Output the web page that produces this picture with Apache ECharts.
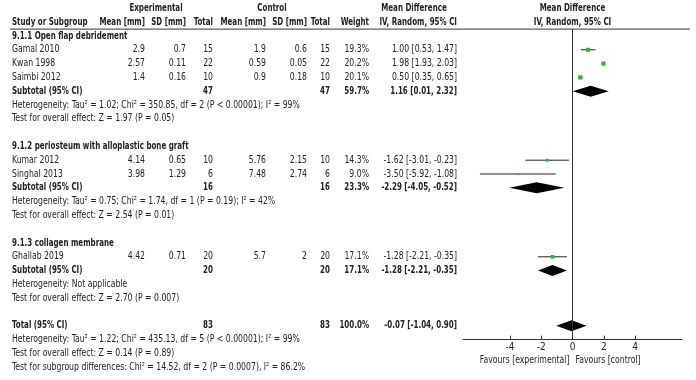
<!DOCTYPE html>
<html>
<head>
<meta charset="utf-8">
<script src="https://cdn.jsdelivr.net/npm/echarts@6/dist/echarts.min.js"></script>
<style>
  html, body { margin: 0; padding: 0; background: #fff; }
  #chart { width: 696px; height: 380px; }
</style>
</head>
<body>
<div id="chart"></div>
<script>
// studies
const studyNames = ['Gamal 2010', 'Kwan 1998', 'Saimbi 2012', 'Kumar 2012', 'Singhal 2013', 'Ghallab 2019'];
const studyGroup = [0, 0, 0, 1, 1, 2];
const expMean = [2.9, 2.57, 1.4, 4.14, 3.98, 4.42];
const expSD = [0.7, 0.11, 0.16, 0.65, 1.29, 0.71];
const expN = [15, 22, 10, 10, 6, 20];
const ctlMean = [1.9, 0.59, 0.9, 5.76, 7.48, 5.7];
const ctlSD = [0.6, 0.05, 0.18, 2.15, 2.74, 2];
const ctlN = [15, 22, 10, 10, 6, 20];
const weight = [19.3, 20.2, 20.1, 14.3, 9.0, 17.1];
const md = [1.00, 1.98, 0.50, -1.62, -3.50, -1.28];
const ciLow = [0.53, 1.93, 0.35, -3.01, -5.92, -2.21];
const ciHigh = [1.47, 2.03, 0.65, -0.23, -1.08, -0.35];

// subgroups
const groupNames = ['9.1.1 Open flap debridement', '9.1.2 periosteum with alloplastic bone graft', '9.1.3 collagen membrane'];
const groupExpN = [47, 16, 20];
const groupCtlN = [47, 16, 20];
const groupWeight = [59.7, 23.3, 17.1];
const groupMd = [1.16, -2.29, -1.28];
const groupLow = [0.01, -4.05, -2.21];
const groupHigh = [2.32, -0.52, -0.35];
const groupHet = [
    'Heterogeneity: Tau² = 1.02; Chi² = 350.85, df = 2 (P < 0.00001); I² = 99%',
    'Heterogeneity: Tau² = 0.75; Chi² = 1.74, df = 1 (P = 0.19); I² = 42%',
    'Heterogeneity: Not applicable'
];
const groupZ = [
    'Test for overall effect: Z = 1.97 (P = 0.05)',
    'Test for overall effect: Z = 2.54 (P = 0.01)',
    'Test for overall effect: Z = 2.70 (P = 0.007)'
];

// overall
const totalExpN = 83;
const totalCtlN = 83;
const totalWeight = 100.0;
const totalMd = -0.07;
const totalLow = -1.04;
const totalHigh = 0.90;
const totalNotes = [
    'Heterogeneity: Tau² = 1.22; Chi² = 435.13, df = 5 (P < 0.00001); I² = 99%',
    'Test for overall effect: Z = 0.14 (P = 0.89)',
    'Test for subgroup differences: Chi² = 14.52, df = 2 (P = 0.0007), I² = 86.2%'
];

const xTicks = [-4, -2, 0, 2, 4];

// layout
const FONT = "'DejaVu Sans Condensed', 'Liberation Sans Narrow', sans-serif";
const FONT_SIZE = 10;
const TEXT_COLOR = '#222';
const GREEN = '#2eb82e';
const ROW_H = 13.8;
const TOP = 8.4;
const COL = { name: 12, expMean: 145, expSD: 186, expN: 213, ctlMean: 266, ctlSD: 307, ctlN: 330, weight: 369, ci: 457 };
// horizontal squeeze so the condensed font matches the original's width
const SQUEEZE = { regular: 0.86, bold: 0.79 };

const fmt = v => v.toFixed(2);
const ciText = (m, l, h) => fmt(m) + ' [' + fmt(l) + ', ' + fmt(h) + ']';

let textItems = [];
function addText(x, row, text, align, bold) {
    textItems.push({ x: x, row: row, text: text, align: align, bold: !!bold });
}

// header
addText(156, 0, 'Experimental', 'center', true);
addText(272, 0, 'Control', 'center', true);
addText(414, 0, 'Mean Difference', 'center', true);
addText(COL.name, 1, 'Study or Subgroup', 'left', true);
addText(COL.expMean, 1, 'Mean [mm]', 'right', true);
addText(COL.expSD, 1, 'SD [mm]', 'right', true);
addText(COL.expN, 1, 'Total', 'right', true);
addText(COL.ctlMean, 1, 'Mean [mm]', 'right', true);
addText(COL.ctlSD, 1, 'SD [mm]', 'right', true);
addText(COL.ctlN, 1, 'Total', 'right', true);
addText(COL.weight, 1, 'Weight', 'right', true);
addText(COL.ci, 1, 'IV, Random, 95% CI', 'right', true);

let studyRows = [];
let groupRows = [];
let row = 2;
groupNames.forEach((g, gi) => {
    addText(COL.name, row, g, 'left', true);
    row++;
    studyNames.forEach((s, i) => {
        if (studyGroup[i] !== gi) return;
        addText(COL.name, row, s, 'left');
        addText(COL.expMean, row, String(expMean[i]), 'right');
        addText(COL.expSD, row, String(expSD[i]), 'right');
        addText(COL.expN, row, String(expN[i]), 'right');
        addText(COL.ctlMean, row, String(ctlMean[i]), 'right');
        addText(COL.ctlSD, row, String(ctlSD[i]), 'right');
        addText(COL.ctlN, row, String(ctlN[i]), 'right');
        addText(COL.weight, row, weight[i].toFixed(1) + '%', 'right');
        addText(COL.ci, row, ciText(md[i], ciLow[i], ciHigh[i]), 'right');
        studyRows[i] = row;
        row++;
    });
    addText(COL.name, row, 'Subtotal (95% CI)', 'left', true);
    addText(COL.expN, row, String(groupExpN[gi]), 'right', true);
    addText(COL.ctlN, row, String(groupCtlN[gi]), 'right', true);
    addText(COL.weight, row, groupWeight[gi].toFixed(1) + '%', 'right', true);
    addText(COL.ci, row, ciText(groupMd[gi], groupLow[gi], groupHigh[gi]), 'right', true);
    groupRows[gi] = row;
    row++;
    addText(COL.name, row, groupHet[gi], 'left');
    row++;
    addText(COL.name, row, groupZ[gi], 'left');
    row += 2;
});
const totalRow = row;
addText(COL.name, row, 'Total (95% CI)', 'left', true);
addText(COL.expN, row, String(totalExpN), 'right', true);
addText(COL.ctlN, row, String(totalCtlN), 'right', true);
addText(COL.weight, row, totalWeight.toFixed(1) + '%', 'right', true);
addText(COL.ci, row, ciText(totalMd, totalLow, totalHigh), 'right', true);
totalNotes.forEach(n => { row++; addText(COL.name, row, n, 'left'); });
const lastRow = row;
const axisRow = totalRow + 1;

// texts placed on the plot's own scale (centred on zero)
const plotTexts = [
    { x: 0, row: 0, text: 'Mean Difference', align: 'center', bold: true },
    { x: 0, row: 1, text: 'IV, Random, 95% CI', align: 'center', bold: true },
    { x: 0, row: axisRow + 1.5, text: 'Favours [experimental]', align: 'right', dx: -3 },
    { x: 0, row: axisRow + 1.5, text: 'Favours [control]', align: 'left', dx: 3 }
];

function textEl(p, t) {
    return {
        type: 'text',
        x: p[0] + (t.dx || 0),
        y: p[1],
        scaleX: t.bold ? SQUEEZE.bold : SQUEEZE.regular,
        style: {
            text: t.text,
            fill: TEXT_COLOR,
            font: (t.bold ? 'bold ' : '') + FONT_SIZE + 'px ' + FONT,
            align: t.align,
            verticalAlign: 'middle'
        }
    };
}

const studyData = md.map((m, i) => [m, studyRows[i], ciLow[i], ciHigh[i], weight[i]]);
const diamondData = groupMd.map((m, gi) => [m, groupRows[gi], groupLow[gi], groupHigh[gi]]);
diamondData.push([totalMd, totalRow, totalLow, totalHigh]);

const chart = echarts.init(document.getElementById('chart'));
chart.setOption({
    animation: false,
    grid: [
        { left: 0, right: 0, top: TOP, height: lastRow * ROW_H },
        { left: 463, width: 219, top: TOP, height: axisRow * ROW_H }
    ],
    xAxis: [
        { gridIndex: 0, type: 'value', min: 0, max: 696, show: false },
        {
            gridIndex: 1, type: 'value', min: -7, max: 7, position: 'bottom',
            splitLine: { show: false },
            axisLine: { onZero: false, lineStyle: { color: '#333', width: 1 } },
            axisTick: { inside: true, length: 4, customValues: xTicks, lineStyle: { color: '#333' } },
            axisLabel: { customValues: xTicks, margin: 3, fontSize: FONT_SIZE, color: TEXT_COLOR, fontFamily: FONT }
        }
    ],
    yAxis: [
        { gridIndex: 0, type: 'value', min: 0, max: lastRow, inverse: true, show: false },
        { gridIndex: 1, type: 'value', min: 0, max: axisRow, inverse: true, show: false }
    ],
    series: [
        {
            // header rule
            type: 'line', xAxisIndex: 0, yAxisIndex: 0, silent: true, symbol: 'none',
            lineStyle: { color: '#333', width: 1 },
            data: [[10, 1.5], [690, 1.5]]
        },
        {
            type: 'custom', xAxisIndex: 0, yAxisIndex: 0, silent: true,
            data: textItems.map(t => [t.x, t.row]),
            renderItem: (params, api) => textEl(api.coord([api.value(0), api.value(1)]), textItems[params.dataIndex])
        },
        {
            // line of no effect
            type: 'line', xAxisIndex: 1, yAxisIndex: 1, silent: true, symbol: 'none',
            lineStyle: { color: '#333', width: 1 },
            data: [[0, 1.5], [0, axisRow]]
        },
        {
            type: 'custom', xAxisIndex: 1, yAxisIndex: 1, silent: true,
            data: plotTexts.map(t => [t.x, t.row]),
            renderItem: (params, api) => textEl(api.coord([api.value(0), api.value(1)]), plotTexts[params.dataIndex])
        },
        {
            type: 'custom', xAxisIndex: 1, yAxisIndex: 1, silent: true,
            data: studyData,
            renderItem: (params, api) => {
                const y = api.value(1);
                const a = api.coord([api.value(2), y]);
                const b = api.coord([api.value(3), y]);
                const c = api.coord([api.value(0), y]);
                const s = api.value(4) * 0.21;
                return {
                    type: 'group',
                    children: [
                        { type: 'line', shape: { x1: a[0], y1: a[1], x2: b[0], y2: b[1] }, style: { stroke: '#222', lineWidth: 1 } },
                        { type: 'rect', shape: { x: c[0] - s / 2, y: c[1] - s / 2, width: s, height: s }, style: { fill: GREEN } }
                    ]
                };
            }
        },
        {
            type: 'custom', xAxisIndex: 1, yAxisIndex: 1, silent: true,
            data: diamondData,
            renderItem: (params, api) => {
                const y = api.value(1);
                const l = api.coord([api.value(2), y]);
                const h = api.coord([api.value(3), y]);
                const top = api.coord([api.value(0), y - 0.4]);
                const bot = api.coord([api.value(0), y + 0.4]);
                return {
                    type: 'polygon',
                    shape: { points: [l, top, h, bot] },
                    style: { fill: '#000' }
                };
            }
        }
    ]
});
</script>
</body>
</html>
